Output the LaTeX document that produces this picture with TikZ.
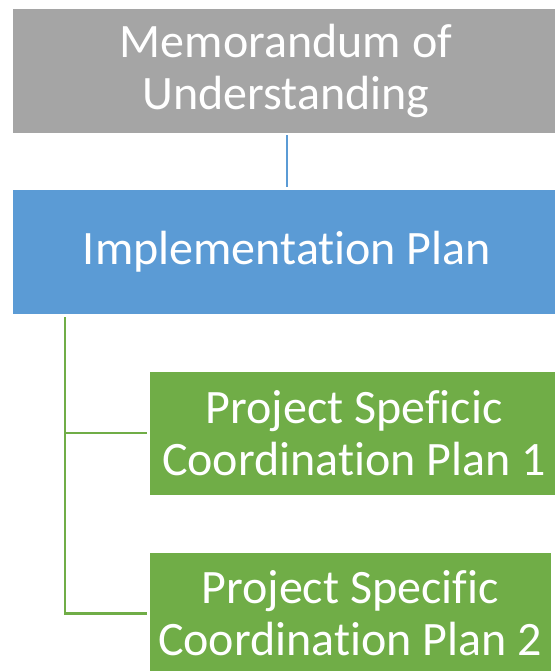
\documentclass[tikz,border=0pt]{standalone}
\usepackage{fontspec}
\setmainfont[Ligatures=NoCommon]{Carlito}
\definecolor{boxgray}{HTML}{A5A5A5}
\definecolor{boxblue}{HTML}{5B9BD5}
\definecolor{boxgreen}{HTML}{70AD47}
\begin{document}
\begin{tikzpicture}[x=1pt,y=1pt,
  orgbox/.style={rectangle, draw=white, line width=0.6pt, text=white,
    align=center, inner sep=0pt,
    font=\fontsize{48}{52}\selectfont},
  link/.style={line width=2.2pt}]
\useasboundingbox (0,0) rectangle (554,671);
% boxes
\node[orgbox, fill=boxgray, minimum width=548, minimum height=125]
  (mou) at (286,600.5) {Memorandum of\\Understanding};
\node[orgbox, fill=boxblue, minimum width=550, minimum height=125]
  (impl) at (287,419.5) {Implementation Plan};
\node[orgbox, fill=boxgreen, minimum width=410, minimum height=124]
  (pcp1) at (354,238) {Project Speficic\\Coordination Plan 1};
\node[orgbox, fill=boxgreen, minimum width=402, minimum height=123]
  (pcp2) at (350,57.5) {Project Specific\\Coordination Plan 2};
% connectors
\coordinate (spine) at (65,0);
\coordinate (stem) at (287,0);
\draw[link, boxblue, shorten <=2pt, shorten >=2pt] (mou.south -| stem) -- (impl.north -| stem);
\draw[link, boxgreen, shorten <=3pt] (impl.south -| spine) |- ([xshift=-2pt]pcp2.west);
\draw[link, boxgreen] (pcp1.west -| spine) -- ([xshift=-2pt]pcp1.west);
\end{tikzpicture}
\end{document}
